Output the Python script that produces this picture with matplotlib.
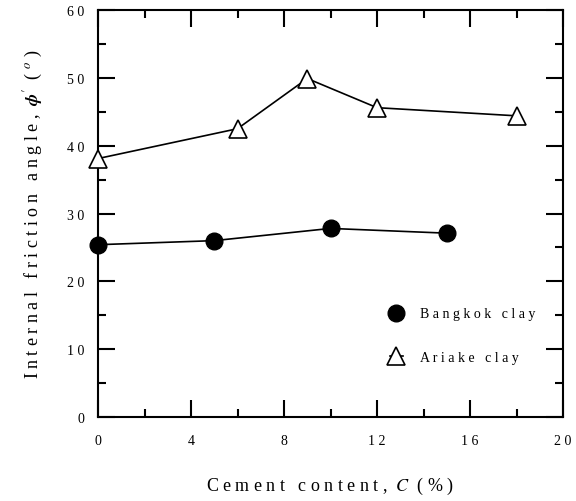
import numpy as np
import matplotlib.pyplot as plt
from matplotlib.ticker import MultipleLocator, FuncFormatter

plt.rcParams['font.family'] = ['Liberation Serif', 'DejaVu Serif']
plt.rcParams['mathtext.fontset'] = 'stix'

# Data
bangkok_c = [0, 5, 10, 15]
bangkok_phi = [25.4, 26.0, 27.8, 27.1]
ariake_c = [0, 6, 9, 12, 18]
ariake_phi = [38.1, 42.5, 49.9, 45.6, 44.4]


def spaced(s):
    return " ".join(s)


fig = plt.figure(figsize=(5.76, 5.02), dpi=100)
ax = fig.add_axes([98 / 576, 1 - 418 / 502, 465 / 576, 407 / 502])

ax.plot(bangkok_c, bangkok_phi, color='black', lw=1.2, marker='o',
        markersize=12, markerfacecolor='black', markeredgecolor='black',
        label=spaced("Bangkok clay"), clip_on=False, zorder=3)
ax.plot(ariake_c, ariake_phi, color='black', lw=1.2, marker='^',
        markersize=13, markerfacecolor='white', markeredgecolor='black',
        markeredgewidth=1.2, label=spaced("Ariake clay"), clip_on=False, zorder=3)

ax.set_xlim(0, 20)
ax.set_ylim(0, 60)
ax.xaxis.set_major_locator(MultipleLocator(4))
ax.xaxis.set_minor_locator(MultipleLocator(2))
ax.yaxis.set_major_locator(MultipleLocator(10))
ax.yaxis.set_minor_locator(MultipleLocator(5))
fmt = FuncFormatter(lambda v, p: spaced(str(int(round(v)))))
ax.xaxis.set_major_formatter(fmt)
ax.yaxis.set_major_formatter(fmt)

ax.tick_params(which='both', direction='in', top=True, right=True,
               width=1.5, labelsize=10, colors='black')
ax.tick_params(which='major', length=12, pad=12)
ax.tick_params(which='minor', length=6)
ax.tick_params(axis='y', which='major', pad=10)
for s in ax.spines.values():
    s.set_linewidth(1.5)

ax.set_xlabel("C e m e n t   c o n t e n t ,  $\\mathit{C}$  ( % )",
              fontsize=13, labelpad=20)
ax.set_ylabel("I n t e r n a l   f r i c t i o n   a n g l e ,  "
              "$\\boldsymbol{\\phi}'$  ( $^{o}$ )",
              fontsize=13, labelpad=16)

ax.legend(loc='upper left', bbox_to_anchor=(0.6, 0.3), frameon=False,
          fontsize=10, handlelength=1.0, handletextpad=1.2, labelspacing=2.2,
          markerscale=1.0)

fig.savefig("out.png", dpi=100)
